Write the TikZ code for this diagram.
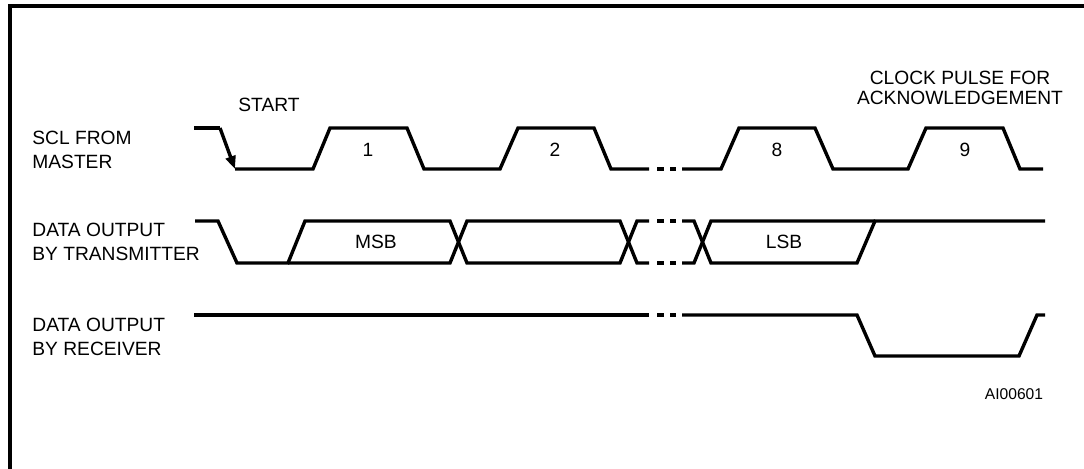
\documentclass[tikz,border=0pt]{standalone}
\usepackage{fontspec}
\setmainfont{Liberation Sans}
\usetikzlibrary{arrows.meta}

\tikzset{
    wave/.style={line width=1.7pt},
    frame/.style={line width=1.6pt},
    lbl/.style={font=\fontsize{9.6}{11.7}\selectfont, inner sep=0pt},
    tag/.style={font=\fontsize{7.8}{9}\selectfont, inner sep=0pt}
}

\begin{document}
\begin{tikzpicture}[x=0.5pt,y=-0.5pt]
    \useasboundingbox (0,0) rectangle (1084,468);
    \clip (0,0) rectangle (1084,468);

    % Frame
    \draw [frame] (10,480) -- (10,6) -- (1100,6);

    % SCL from master
    \draw [wave] (194,128) -- (220,128);
    \draw [wave,-{Triangle[length=6.5pt,width=5pt]}] (220,128) -- (235,169);
    \draw [wave] (235,169) -- (313,169) -- (330,128) -- (407,128) -- (424,169)
        -- (500,169) -- (518,128) -- (594,128) -- (611,169) -- (649,169);
    \draw [wave] (682,169) -- (721,169) -- (739,128) -- (815,128) -- (833,169)
        -- (908,169) -- (926,128) -- (1003,128) -- (1020,169) -- (1043,169);

    % Data output by transmitter
    \draw [wave] (195,221) -- (218,221) -- (237,263) -- (288,263) -- (305,221)
        -- (450,221) -- (467,263) -- (620,263) -- (637,221) -- (649,221);
    \draw [wave] (288,263) -- (450,263) -- (467,221) -- (620,221) -- (637,263)
        -- (649,263);
    \draw [wave] (682,221) -- (694,221) -- (711,263) -- (857,263) -- (875,221)
        -- (1045,221);
    \draw [wave] (682,263) -- (694,263) -- (711,221) -- (875,221);

    % Data output by receiver
    \draw [wave] (194,315) -- (649,315);
    \draw [wave] (682,315) -- (857,315) -- (875,356) -- (1019,356) -- (1037,315)
        -- (1045,315);

    % Break marks
    \foreach \y in {169,221,263,315} {
        \draw [wave] (657,\y) -- (664,\y);
        \draw [wave] (670,\y) -- (676,\y);
    }

    % Row labels
    \node [lbl, anchor=west, align=left] (scl) at (32,150) {SCL FROM\\MASTER};
    \node [lbl, anchor=west, align=left] (tx) at (32,242) {DATA OUTPUT\\BY TRANSMITTER};
    \node [lbl, anchor=west, align=left] (rx) at (32,337) {DATA OUTPUT\\BY RECEIVER};

    % Pulse labels
    \node [lbl] (start) at (269,105) {START};
    \node [lbl, align=center, font=\fontsize{9.6}{9.8}\selectfont] (ack) at (960,88)
        {CLOCK PULSE FOR\\ACKNOWLEDGEMENT};
    \node [lbl] (p1) at (368,150) {1};
    \node [lbl] (p2) at (555,150) {2};
    \node [lbl] (p8) at (777,150) {8};
    \node [lbl] (p9) at (965,150) {9};
    \node [lbl] (msb) at (376,242) {MSB};
    \node [lbl] (lsb) at (784,242) {LSB};

    % Figure tag
    \node [tag] (fig) at (1014,394) {AI00601};
\end{tikzpicture}
\end{document}
